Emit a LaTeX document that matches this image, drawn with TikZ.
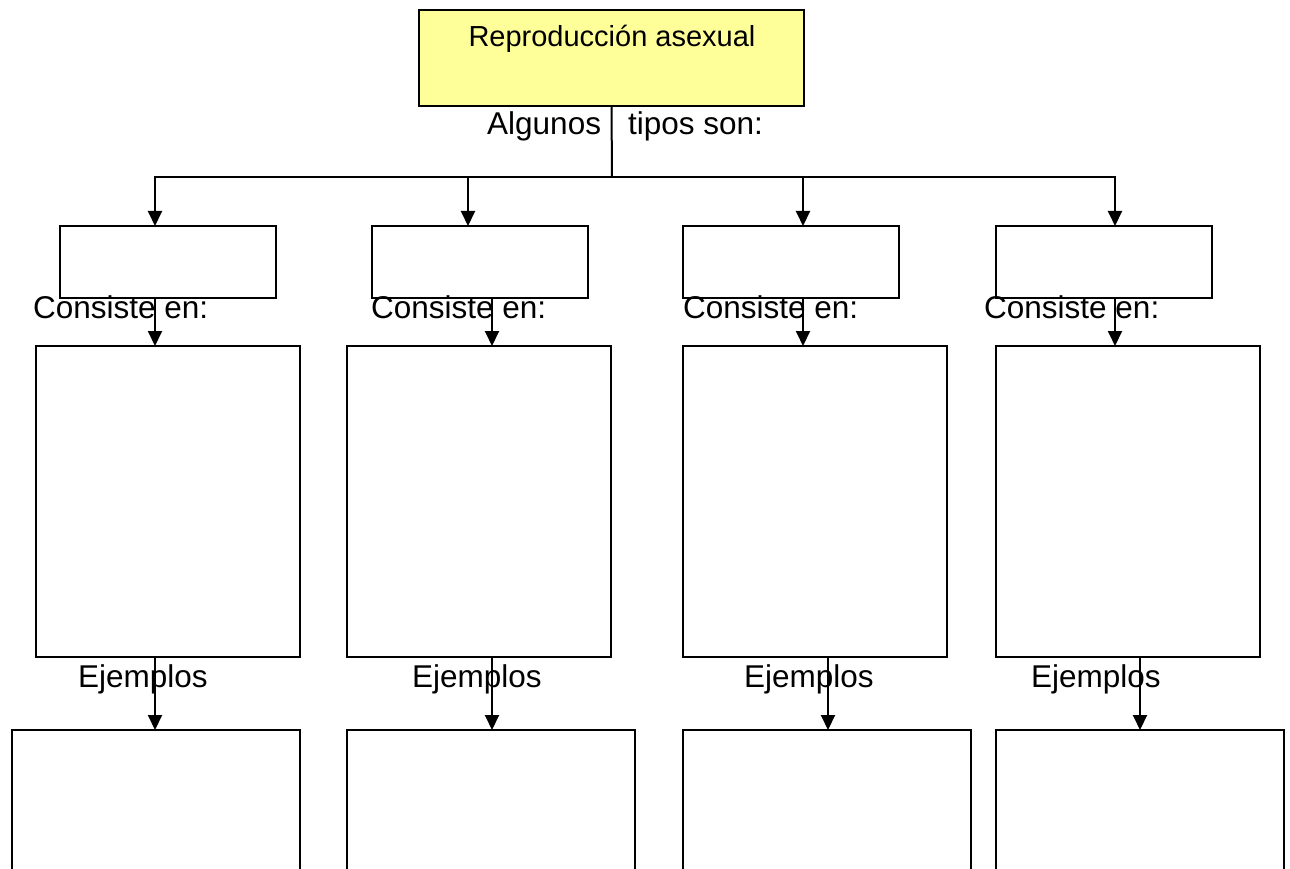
\documentclass[tikz,border=0pt]{standalone}
\usepackage{fontspec}
\setmainfont{Liberation Sans}
\usetikzlibrary{arrows.meta,positioning}
\tikzset{>={Triangle[width=14pt,length=15pt]}}
\definecolor{amarillo}{HTML}{FFFF99}
\tikzset{
    caja/.style={draw,line width=2pt,inner sep=0pt,outer sep=0pt,anchor=north west},
    rotulo/.style={anchor=base west,inner sep=0pt,font=\fontsize{31.5}{36}\selectfont},
    linea/.style={line width=2pt}
}

\begin{document}
\begin{tikzpicture}[x=1pt,y=-1pt]
    \useasboundingbox (0,0) rectangle (1290,869);
    \clip (0,0) rectangle (1290,869);
    \node[caja,fill=amarillo,minimum width=385pt,minimum height=96pt] at (419,10) (raiz) {};
    \node[anchor=base,inner sep=0pt,font=\fontsize{29}{34}\selectfont] at (612,47) (titulo) {Reproducción asexual};
    \node[rotulo] at (487,135) (algunos) {Algunos};
    \node[rotulo] at (628,135) (tipos) {tipos son:};
    \coordinate (rama) at (612,177);
    % una columna por cada tipo
    \foreach \i/\a/\b/\c/\sl/\ml/\bl/\cl/\el in {1/155/155/155/60/36/12/33/78,
        2/468/492/492/372/347/347/371/412,
        3/803/803/828/683/683/683/683/744,
        4/1115/1115/1140/996/996/996/984/1031}{
        \node[caja,minimum width=216pt,minimum height=72pt] at (\sl,226) (tipo\i) {};
        \node[caja,minimum width=264pt,minimum height=311pt] at (\ml,346) (def\i) {};
        \node[caja,minimum width=288pt,minimum height=200pt] at (\bl,730) (ej\i) {};
        \node[rotulo] at (\cl,318) (consiste\i) {Consiste en:};
        \node[rotulo] at (\el,687) (ejemplos\i) {Ejemplos};
        \coordinate (p\i) at (\a,177);
        \coordinate (q\i) at (\b,0);
        \coordinate (r\i) at (\c,0);
        \path[->,linea]
        (p\i) edge (p\i |- tipo\i.north)
        (tipo\i.south -| q\i) edge (def\i.north -| q\i)
        (def\i.south -| r\i) edge (ej\i.north -| r\i);
    }
    \draw[linea] (raiz.south) -- (rama);
    \draw[linea,line cap=rect] (p1) -- (p4);
\end{tikzpicture}
\end{document}
